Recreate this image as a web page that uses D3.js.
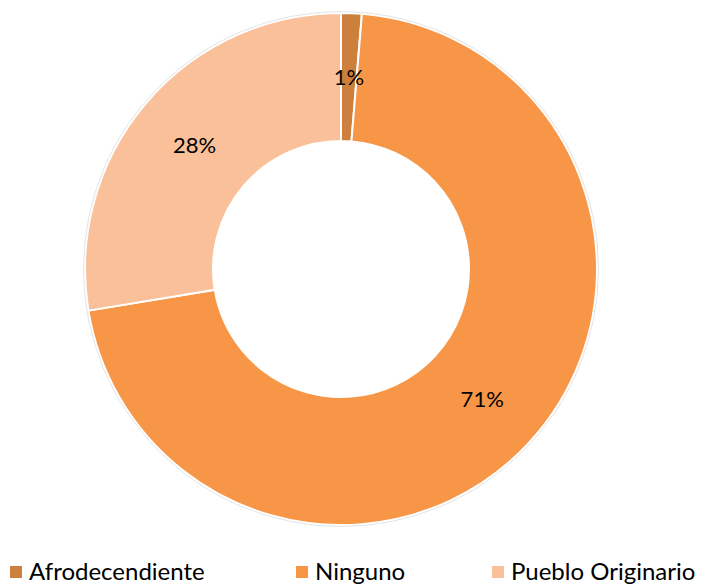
<!DOCTYPE html>
<html>
<head>
<meta charset="utf-8">
<script src="https://cdn.jsdelivr.net/npm/d3@7"></script>
<style>
  body { margin: 0; background: #fff; }
  text { font-family: Lato, "Open Sans", sans-serif; fill: #000; }
</style>
</head>
<body>
<div id="chart_div"></div>
<script>
// data
const categories = ["Afrodecendiente", "Ninguno", "Pueblo Originario"];
const shares = [1.3, 71.1, 27.6];
const labels = ["1%", "71%", "28%"];
const colors = ["#CD7F3C", "#F79646", "#FAC09A"];

const chart_width = 702,
  chart_height = 586;

const cx = 341, cy = 269,
  outerR = 256, innerR = 128;

const svg = d3.select("#chart_div")
  .append("svg")
  .attr("width", chart_width)
  .attr("height", chart_height);

const pieData = d3.pie()
  .sort(null)
  .value(d => d)(shares);

const arc = d3.arc()
  .innerRadius(innerR)
  .outerRadius(outerR);

const g = svg.append("g")
  .attr("transform", `translate(${cx},${cy})`);

// slices
g.selectAll("path.slice")
  .data(pieData)
  .enter()
  .append("path")
  .attr("class", "slice")
  .attr("d", arc)
  .attr("fill", (d, i) => colors[i])
  .attr("stroke", "#fff")
  .attr("stroke-width", 2);

// faint rim round the ring
g.append("circle")
  .attr("r", outerR + 1.5)
  .attr("fill", "none")
  .attr("stroke", "#e4e4e4")
  .attr("stroke-width", 1);

// data labels
g.selectAll("text.label")
  .data(pieData)
  .enter()
  .append("text")
  .attr("class", "label")
  .attr("transform", d => `translate(${arc.centroid(d)})`)
  .attr("text-anchor", "middle")
  .attr("dy", "0.36em")
  .style("font-size", "22px")
  .text((d, i) => labels[i]);

// legend
const legendX = [10, 296, 492];
const legendY = 571;
const size = 12;

const legend = svg.selectAll("g.legend")
  .data(categories)
  .enter()
  .append("g")
  .attr("class", "legend")
  .attr("transform", (d, i) => `translate(${legendX[i]},${legendY})`);

legend.append("rect")
  .attr("x", 0)
  .attr("y", -size / 2 + 1)
  .attr("width", size)
  .attr("height", size)
  .attr("fill", (d, i) => colors[i]);

legend.append("text")
  .attr("x", size + 7)
  .attr("dy", "0.36em")
  .style("font-size", "24px")
  .text(d => d);
</script>
</body>
</html>
